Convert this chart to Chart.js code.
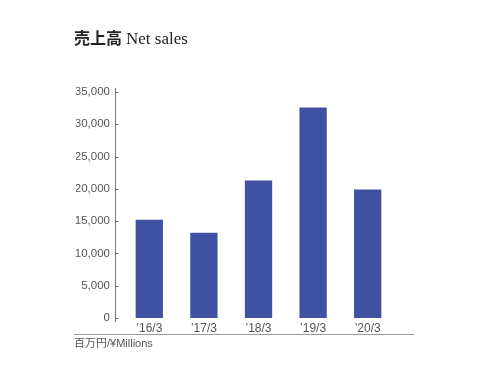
<!DOCTYPE html>
<html>
<head>
<meta charset="utf-8">
<script src="https://cdn.jsdelivr.net/npm/chart.js@4/dist/chart.umd.min.js"></script>
<style>
  html, body { margin: 0; padding: 0; background: #fff; }
  #wrap { position: relative; width: 477px; height: 368px; }
  #c { position: absolute; left: 0; top: 0; }
  #title { position: absolute; left: 74px; top: 27px; font-size: 16px; line-height: 20px; color: #222; white-space: nowrap; }
  #title .jp { font-family: "Noto Sans CJK JP", sans-serif; font-weight: bold; }
  #title .en { font-family: "Liberation Serif", serif; font-size: 17px; }
  #unit { position: absolute; left: 74px; top: 335px; font-size: 11px; line-height: 14px; color: #555; white-space: nowrap; font-family: "Liberation Sans", "Noto Sans CJK JP", sans-serif; }
  #unit .jp { font-family: "Noto Sans CJK JP", sans-serif; }
</style>
</head>
<body>
<div id="wrap">
  <canvas id="c" width="477" height="368"></canvas>
  <div id="title"><span class="jp">売上高</span> <span class="en">Net sales</span></div>
  <div id="unit"><span class="jp">百万円</span>/¥Millions</div>
</div>
<script>
const categories = ["\u201916/3", "\u201917/3", "\u201918/3", "\u201919/3", "\u201920/3"];
const netSales = [15200, 13200, 21300, 32600, 19900];
const yTicks = [0, 5000, 10000, 15000, 20000, 25000, 30000, 35000];

const axisPlugin = {
  id: 'axisPlugin',
  afterDraw(chart) {
    const ctx = chart.ctx;
    const a = chart.chartArea;
    const y = chart.scales.y;
    const ax = Math.round(a.left - 7) + 0.5;
    ctx.save();
    ctx.strokeStyle = '#777';
    ctx.lineWidth = 1;
    ctx.beginPath();
    ctx.moveTo(ax, a.top - 4);
    ctx.lineTo(ax, a.bottom + 4);
    yTicks.forEach(v => {
      const py = Math.round(y.getPixelForValue(v)) + 0.5;
      ctx.moveTo(ax, py);
      ctx.lineTo(ax + 3, py);
    });
    ctx.stroke();
    ctx.strokeStyle = '#999';
    ctx.beginPath();
    ctx.moveTo(74, 334.5);
    ctx.lineTo(414, 334.5);
    ctx.stroke();
    ctx.restore();
  }
};

new Chart(document.getElementById('c'), {
  type: 'bar',
  data: {
    labels: categories,
    datasets: [{
      data: netSales,
      backgroundColor: '#3F51A0',
      borderWidth: 0,
      categoryPercentage: 1.0,
      barPercentage: 0.5
    }]
  },
  options: {
    responsive: false,
    animation: false,
    devicePixelRatio: 1,
    layout: { padding: { left: 76, right: 82, top: 92, bottom: 32 } },
    plugins: { legend: { display: false }, tooltip: { enabled: false }, title: { display: false } },
    scales: {
      x: {
        offset: true,
        grid: { display: false, drawTicks: false },
        border: { display: false },
        ticks: { color: '#555', font: { family: 'Liberation Sans', size: 12 }, padding: 3, maxRotation: 0 },
        afterFit(s) { s.height = 18; }
      },
      y: {
        min: 0,
        max: 35000,
        grid: { display: false, drawTicks: false },
        border: { display: false },
        afterBuildTicks(s) { s.ticks = yTicks.map(v => ({ value: v })); },
        ticks: {
          color: '#555',
          font: { family: 'Liberation Sans', size: 11.5 },
          padding: 12,
          callback: v => v.toLocaleString('en-US')
        },
        afterFit(s) { s.width = 46; }
      }
    }
  },
  plugins: [axisPlugin]
});
</script>
</body>
</html>
